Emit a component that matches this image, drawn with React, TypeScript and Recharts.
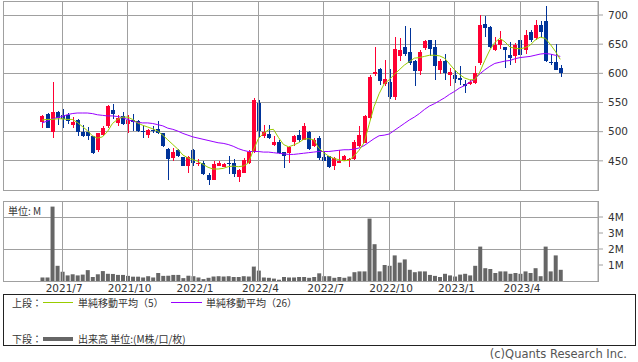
import {
  ComposedChart,
  Bar,
  Line,
  XAxis,
  YAxis,
  CartesianGrid,
  ReferenceLine,
  ReferenceArea,
} from "recharts";

// weekly candles, Jun 2021 .. Jun 2023 (index = week number)
const opens = [
  516, 531, 500, 533, 529, 529, 512, 520, 500, 499,
  492, 469, 495, 510, 538, 515, 527, 514, 520, 519,
  502, 495, 503, 505, 497, 471, 455, 469, 457, 441,
  468, 446, 447, 426, 418, 442, 440, 447, 446, 422,
  430, 446, 465, 549, 492, 496, 478, 483, 465, 463,
  483, 495, 486, 499, 475, 490, 457, 458, 441, 447,
  451, 451, 453, 475, 481, 523, 599, 607, 581, 585,
  559, 629, 646, 637, 621, 604, 643, 657, 646, 606,
  621, 597, 597, 592, 582, 582, 583, 617, 685, 680,
  640, 649, 646, 632, 629, 657, 640, 671, 660, 683,
  690, 620, 620, 609,
];
const highs = [
  529, 532, 586, 536, 539, 532, 526, 522, 512, 508,
  493, 498, 509, 546, 548, 529, 534, 529, 531, 520,
  509, 505, 509, 519, 498, 472, 472, 470, 457, 459,
  471, 453, 449, 429, 449, 449, 447, 459, 453, 436,
  455, 468, 557, 555, 512, 512, 492, 486, 466, 475,
  495, 503, 515, 501, 489, 492, 466, 459, 457, 468,
  460, 455, 485, 510, 529, 598, 646, 610, 623, 607,
  662, 661, 681, 678, 623, 640, 658, 658, 657, 624,
  633, 609, 606, 612, 589, 589, 612, 700, 698, 681,
  663, 672, 646, 654, 652, 658, 674, 674, 691, 689,
  715, 634, 651, 614,
];
const lows = [
  507, 507, 489, 511, 506, 514, 506, 493, 491, 485,
  462, 466, 493, 506, 522, 509, 512, 498, 501, 500,
  490, 490, 498, 496, 474, 417, 450, 457, 441, 430,
  441, 442, 426, 408, 418, 441, 439, 428, 422, 414,
  429, 445, 463, 489, 489, 487, 475, 462, 438, 447,
  476, 483, 485, 469, 474, 452, 449, 438, 435, 446,
  449, 440, 452, 474, 480, 520, 596, 580, 578, 556,
  555, 622, 630, 615, 578, 597, 640, 629, 589, 599,
  588, 579, 584, 580, 566, 580, 582, 614, 663, 643,
  639, 641, 609, 614, 617, 629, 634, 654, 657, 663,
  620, 614, 605, 593,
];
const closes = [
  527, 507, 534, 523, 522, 518, 516, 499, 493, 492,
  464, 497, 507, 544, 531, 524, 514, 520, 517, 501,
  499, 503, 502, 498, 475, 454, 465, 458, 442, 457,
  446, 447, 428, 417, 444, 446, 445, 444, 427, 435,
  452, 466, 554, 501, 499, 489, 483, 464, 458, 473,
  492, 486, 510, 470, 486, 455, 450, 440, 455, 449,
  459, 453, 483, 495, 527, 593, 602, 587, 591, 560,
  641, 640, 634, 618, 604, 637, 655, 642, 612, 621,
  600, 603, 590, 588, 579, 586, 600, 683, 677, 646,
  649, 657, 640, 626, 649, 632, 666, 657, 683, 671,
  622, 618, 606, 601,
];
const ma5 = [
  520, 521, 521, 522, 522, 521, 521, 516, 509, 502,
  493, 489, 491, 500, 514, 521, 525, 525, 521, 515,
  511, 508, 505, 501, 494, 486, 478, 470, 460, 455,
  452, 449, 444, 439, 436, 436, 437, 440, 441, 440,
  441, 446, 468, 488, 497, 503, 504, 490, 478, 474,
  477, 481, 487, 488, 486, 472, 464, 458, 454, 452,
  450, 451, 458, 468, 481, 512, 543, 565, 582, 589,
  598, 606, 614, 620, 626, 627, 629, 631, 631, 630,
  626, 616, 606, 598, 592, 589, 589, 602, 622, 640,
  653, 660, 654, 645, 643, 642, 644, 648, 657, 662,
  660, 650, 638, 624,
];
const ma26 = [
  515, 518, 522, 524, 526, 529, 531, 532, 532, 532,
  531, 529, 528, 527, 527, 526, 524, 521, 518, 516,
  515, 515, 514, 512, 510, 506, 504, 501, 497, 494,
  491, 489, 487, 485, 483, 481, 480, 478, 475, 471,
  468, 466, 466, 466, 465, 465, 464, 463, 462, 461,
  461, 462, 463, 464, 465, 466, 466, 466, 467, 468,
  469, 469, 470, 472, 476, 482, 488, 493, 494, 496,
  502, 508, 514, 520, 525, 531, 538, 544, 548, 553,
  558, 564, 569, 575, 579, 585, 590, 599, 606, 612,
  617, 619, 621, 622, 625, 627, 628, 629, 631, 633,
  634, 633, 631, 629,
];
// volume in millions
const volumes = [
  0.22, 0.22, 4.65, 0.95, 0.58, 0.35, 0.42, 0.35, 0.4, 0.68,
  0.25, 0.42, 0.62, 0.45, 0.44, 0.38, 0.38, 0.32, 0.27, 0.27,
  0.22, 0.3, 0.22, 0.5, 0.32, 0.33, 0.38, 0.38, 0.18, 0.33,
  0.3, 0.22, 0.12, 0.2, 0.28, 0.3, 0.28, 0.3, 0.25, 0.25,
  0.3, 0.28, 0.9, 0.65, 0.22, 0.2, 0.15, 0.08, 0.25, 0.22,
  0.22, 0.25, 0.25, 0.2, 0.25, 0.48, 0.3, 0.3, 0.2, 0.25,
  0.2, 0.28, 0.55, 0.6, 0.6, 3.9, 2.3, 0.6, 1.0, 0.95,
  1.6, 1.15, 1.35, 0.7, 0.55, 0.6, 0.6, 0.38, 0.32, 0.25,
  0.45, 0.35, 0.28, 0.4, 0.45, 0.35, 0.95, 2.15, 0.8, 0.75,
  0.5, 0.6, 0.6, 0.45, 0.5, 0.45, 0.6, 0.5, 0.8, 0.3,
  2.15, 0.6, 1.6, 0.7,
];

const monthLabels = ["2021/7", "2021/10", "2022/1", "2022/4", "2022/7", "2022/10", "2023/1", "2023/4"];
const monthWeeks = [4, 17, 30, 43, 56, 69, 82, 95];
const priceTicks = [450, 500, 550, 600, 650, 700];
const volumeTicks = [1, 2, 3, 4];
const weekRange: [number, number] = [-7.75, 110.5];
const priceRange: [number, number] = [400, 724];
const volumeRange: [number, number] = [0, 5];

const RED = "#ff0033";
const BLUE = "#003399";
const GRID = "#a0a0a0";
const TEXT = "#333";
const JP = "'Noto Sans CJK JP', 'DejaVu Sans', sans-serif";
const NUM = "'DejaVu Sans', sans-serif";

const data = opens.map((o, i) => ({
  i,
  open: o,
  high: highs[i],
  low: lows[i],
  close: closes[i],
  range: [lows[i], highs[i]],
  ma5: ma5[i],
  ma26: ma26[i],
  vol: volumes[i],
}));

function Candle(props: any) {
  const { x, y, width, height, payload } = props;
  if (!payload) return null;
  const { open, close, high, low } = payload;
  const color = close >= open ? RED : BLUE;
  const top = height < 0 ? y + height : y;
  const span = Math.abs(height);
  const toY = (v: number) => top + ((high - v) / (high - low || 1)) * span;
  const bodyTop = toY(Math.max(open, close));
  const bodyBottom = toY(Math.min(open, close));
  const left = Math.round(x + width / 2 - 2);
  return (
    <g shapeRendering="crispEdges">
      <rect x={left + 2} y={top} width={1} height={Math.max(span, 1)} fill={color} />
      <rect x={left} y={bodyTop} width={4} height={Math.max(bodyBottom - bodyTop, 1)} fill={color} />
    </g>
  );
}

const label = (left: number, cy: number, text: string, extra: any = {}) => (
  <div
    style={{
      position: "absolute",
      left,
      top: cy - 6,
      fontFamily: JP,
      fontSize: 10,
      lineHeight: "12px",
      color: TEXT,
      whiteSpace: "nowrap",
      ...extra,
    }}
  >
    {text}
  </div>
);

export default function App() {
  const axisTick = { fill: TEXT, fontSize: 10.5, fontFamily: NUM };
  return (
    <div
      style={{
        position: "absolute",
        left: 0,
        top: 0,
        width: 638,
        height: 362,
        background: "#fff",
        overflow: "hidden",
      }}
    >
      {/* price panel */}
      <div style={{ position: "absolute", left: 0, top: 0 }}>
        <ComposedChart width={638} height={192} data={data} margin={{ top: 1, right: 0, left: 3, bottom: 2 }}>
          <CartesianGrid vertical={false} stroke={GRID} shapeRendering="crispEdges" />
          <XAxis type="number" dataKey="i" domain={weekRange} hide allowDataOverflow />
          <YAxis
            orientation="right"
            width={40}
            domain={priceRange}
            ticks={priceTicks}
            allowDataOverflow
            tick={axisTick}
            tickSize={5}
            tickMargin={5}
            stroke={GRID}
            axisLine={{ stroke: GRID }}
            tickLine={{ stroke: GRID }}
          />
          {monthWeeks.map((w) => (
            <ReferenceLine key={w} x={w} stroke={GRID} shapeRendering="crispEdges" />
          ))}
          <ReferenceArea
            x1={weekRange[0]}
            x2={weekRange[1]}
            y1={priceRange[0]}
            y2={priceRange[1]}
            fill="none"
            fillOpacity={0}
            stroke={GRID}
            strokeOpacity={1}
            shapeRendering="crispEdges"
          />
          <Bar dataKey="range" barSize={4} shape={Candle} isAnimationActive={false} />
          <Line type="linear" dataKey="ma26" stroke="#9900ff" strokeWidth={1} dot={false} activeDot={false} isAnimationActive={false} />
          <Line type="linear" dataKey="ma5" stroke="#99cc00" strokeWidth={1} dot={false} activeDot={false} isAnimationActive={false} />
        </ComposedChart>
      </div>

      {/* volume panel */}
      <div style={{ position: "absolute", left: 0, top: 196 }}>
        <ComposedChart width={638} height={100} data={data} margin={{ top: 5, right: 0, left: 3, bottom: 0 }}>
          <CartesianGrid vertical={false} stroke={GRID} shapeRendering="crispEdges" />
          <XAxis
            type="number"
            dataKey="i"
            domain={weekRange}
            allowDataOverflow
            ticks={monthWeeks}
            tickFormatter={(v) => monthLabels[monthWeeks.indexOf(v)] ?? ""}
            height={15}
            axisLine={false}
            tickLine={false}
            tickSize={0}
            tickMargin={4}
            tick={{ ...axisTick, dx: 2 }}
            interval={0}
          />
          <YAxis
            orientation="right"
            width={40}
            domain={volumeRange}
            ticks={volumeTicks}
            allowDataOverflow
            tickFormatter={(v) => `${v}M`}
            tick={axisTick}
            tickSize={5}
            tickMargin={5}
            axisLine={{ stroke: GRID }}
            tickLine={{ stroke: GRID }}
          />
          {monthWeeks.map((w) => (
            <ReferenceLine key={w} x={w} stroke={GRID} shapeRendering="crispEdges" />
          ))}
          <ReferenceArea
            x1={weekRange[0]}
            x2={weekRange[1]}
            y1={volumeRange[0]}
            y2={volumeRange[1]}
            fill="none"
            fillOpacity={0}
            stroke={GRID}
            strokeOpacity={1}
            shapeRendering="crispEdges"
          />
          <Bar dataKey="vol" barSize={4} fill="#666" isAnimationActive={false} />
        </ComposedChart>
      </div>
      {label(8, 211, "単位: M")}

      {/* legend box */}
      <div
        style={{
          position: "absolute",
          left: 3,
          top: 294,
          width: 633,
          height: 52,
          border: "1px solid #222",
          boxSizing: "border-box",
        }}
      />
      {label(12, 302.5, "上段：")}
      <div style={{ position: "absolute", left: 43, top: 302, width: 30, height: 1, background: "#99cc00" }} />
      {label(78, 302.5, "単純移動平均（5）")}
      <div style={{ position: "absolute", left: 171, top: 302, width: 31, height: 1, background: "#9900ff" }} />
      {label(206, 302.5, "単純移動平均（26）")}
      {label(12, 339, "下段：")}
      <div style={{ position: "absolute", left: 43, top: 337, width: 30, height: 4, background: "#666" }} />
      {label(78, 339, "出来高 単位:(M株/口/枚)")}

      <div
        style={{
          position: "absolute",
          right: 11,
          top: 347,
          fontFamily: NUM,
          fontSize: 11.5,
          lineHeight: "14px",
          color: "#555",
          whiteSpace: "nowrap",
        }}
      >
        (c)Quants Research Inc.
      </div>
    </div>
  );
}
